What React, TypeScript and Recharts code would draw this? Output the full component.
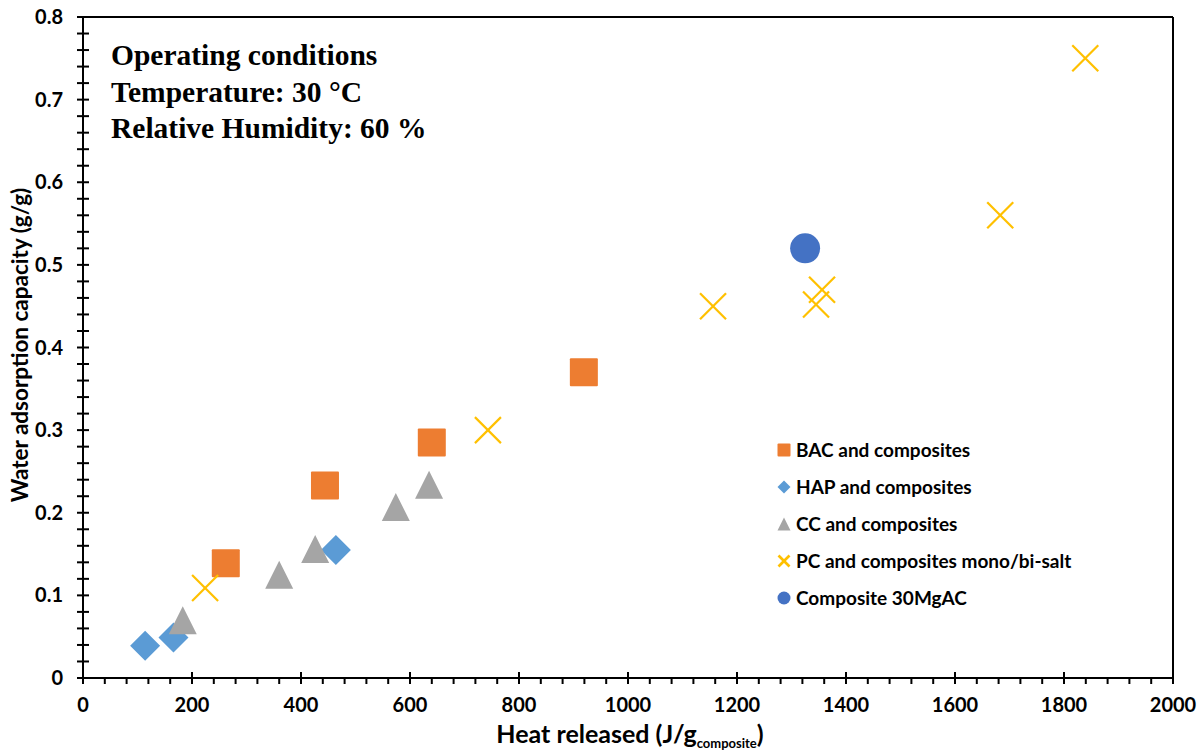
import React from "react";
import {
  ScatterChart,
  Scatter,
  XAxis,
  YAxis,
  Legend,
  ReferenceLine,
} from "recharts";

// ---- Data ----
const bacX = [262, 444, 640, 919];
const bacY = [0.139, 0.233, 0.285, 0.37];

const hapX = [114, 166, 464];
const hapY = [0.039, 0.049, 0.155];

const ccX = [183, 360, 426, 574, 635];
const ccY = [0.07, 0.125, 0.156, 0.207, 0.234];

const pcX = [224, 743, 1156, 1345, 1356, 1683, 1839];
const pcY = [0.109, 0.3, 0.45, 0.452, 0.47, 0.56, 0.75];

const mgX = [1325];
const mgY = [0.52];

const seriesNames = [
  "BAC and composites",
  "HAP and composites",
  "CC and composites",
  "PC and composites mono/bi-salt",
  "Composite 30MgAC",
];

const xMajorTicks = [0, 200, 400, 600, 800, 1000, 1200, 1400, 1600, 1800, 2000];
const yMajorTicks = [0, 0.1, 0.2, 0.3, 0.4, 0.5, 0.6, 0.7, 0.8];

const annotationLines = [
  "Operating conditions",
  "Temperature: 30 °C",
  "Relative Humidity: 60 %",
];

// minor ticks: 5 subdivisions per major interval
const xTicks: number[] = [];
for (let i = 0; i < xMajorTicks.length - 1; i++) {
  const a = xMajorTicks[i];
  const step = (xMajorTicks[i + 1] - a) / 5;
  for (let k = 0; k < 5; k++) xTicks.push(a + k * step);
}
xTicks.push(xMajorTicks[xMajorTicks.length - 1]);

const yTicks: number[] = [];
for (let i = 0; i < yMajorTicks.length - 1; i++) {
  const a = yMajorTicks[i];
  const step = (yMajorTicks[i + 1] - a) / 5;
  for (let k = 0; k < 5; k++) yTicks.push(Math.round((a + k * step) * 1000) / 1000);
}
yTicks.push(yMajorTicks[yMajorTicks.length - 1]);

const zip = (xs: number[], ys: number[]) => xs.map((x, i) => ({ x, y: ys[i] }));

const bacData = zip(bacX, bacY);
const hapData = zip(hapX, hapY);
const ccData = zip(ccX, ccY);
const pcData = zip(pcX, pcY);
const mgData = zip(mgX, mgY);

const COLORS = ["#ED7D31", "#5B9BD5", "#A5A5A5", "#FFC000", "#4472C4"];

const FONT = "Lato, 'Open Sans', sans-serif";

// ---- Marker shapes ----
const drawMarker = (kind: number, cx: number, cy: number, s: number) => {
  const h = s / 2;
  switch (kind) {
    case 0:
      return <rect x={cx - h} y={cy - h} width={s} height={s} fill={COLORS[0]} rx={1} />;
    case 1:
      return (
        <polygon
          points={`${cx},${cy - h} ${cx + h},${cy} ${cx},${cy + h} ${cx - h},${cy}`}
          fill={COLORS[1]}
        />
      );
    case 2:
      return (
        <polygon
          points={`${cx},${cy - h} ${cx + h},${cy + h} ${cx - h},${cy + h}`}
          fill={COLORS[2]}
        />
      );
    case 3:
      return (
        <g stroke={COLORS[3]} strokeWidth={s > 16 ? 2.2 : 2.6}>
          <line x1={cx - h} y1={cy - h} x2={cx + h} y2={cy + h} />
          <line x1={cx - h} y1={cy + h} x2={cx + h} y2={cy - h} />
        </g>
      );
    default:
      return <circle cx={cx} cy={cy} r={h} fill={COLORS[4]} />;
  }
};

const makeShape = (kind: number, size: number) => (props: any) => {
  const { cx, cy } = props;
  if (cx == null || cy == null) return <g />;
  return drawMarker(kind, cx, cy, size);
};

// ---- Axis ticks ----
const XTick = (props: any) => {
  const { x, y, payload } = props;
  const v = payload.value;
  const major = Math.round(v) % 200 === 0;
  return (
    <g>
      <line x1={x} x2={x} y1={major ? y - 6 : y} y2={y + 6} stroke="#000" strokeWidth={2} />
      {major && (
        <text
          x={x}
          y={y + 34}
          textAnchor="middle"
          fontFamily={FONT}
          fontWeight={700}
          fontSize={20}
          fill="#000"
        >
          {v}
        </text>
      )}
    </g>
  );
};

const YTick = (props: any) => {
  const { x, y, payload } = props;
  const v = payload.value;
  const major = Math.round(v * 100) % 10 === 0;
  return (
    <g>
      <line x1={x - 6} x2={x + 6} y1={y} y2={y} stroke="#000" strokeWidth={2} />
      {major && (
        <text
          x={x - 20}
          y={y}
          dy="0.35em"
          textAnchor="end"
          fontFamily={FONT}
          fontWeight={700}
          fontSize={20}
          fill="#000"
        >
          {v === 0 ? "0" : v.toFixed(1)}
        </text>
      )}
    </g>
  );
};

// ---- Legend ----
const renderLegend = () => (
  <div style={{ fontFamily: FONT, fontWeight: 700, fontSize: 19, color: "#000", whiteSpace: "nowrap" }}>
    {seriesNames.map((name, i) => (
      <div key={name} style={{ display: "flex", alignItems: "center", height: 37 }}>
        <svg width={14} height={14} style={{ marginRight: 5, flexShrink: 0 }}>
          {drawMarker(i, 7, 7, i === 3 ? 11 : 13)}
        </svg>
        <span>{name}</span>
      </div>
    ))}
  </div>
);

export default function App() {
  return (
    <div style={{ position: "absolute", left: 0, top: 0, width: 1203, height: 751, background: "#fff" }}>
      <ScatterChart
        width={1203}
        height={751}
        margin={{ top: 17, right: 30, bottom: 0, left: 0 }}
      >
        <XAxis
          type="number"
          dataKey="x"
          domain={[0, 2000]}
          ticks={xTicks}
          interval={0}
          tickSize={0}
          tickMargin={0}
          tickLine={false}
          tick={<XTick />}
          axisLine={{ stroke: "#000", strokeWidth: 2 }}
          height={73}
          allowDataOverflow
          label={{
            content: () => (
              <text
                x={630}
                y={743}
                textAnchor="middle"
                fontFamily={FONT}
                fontWeight={700}
                fontSize={25}
                fill="#000"
              >
                Heat released (J/g
                <tspan fontSize={13} dy={5}>composite</tspan>
                <tspan dy={-5}>)</tspan>
              </text>
            ),
          }}
        />
        <YAxis
          type="number"
          dataKey="y"
          domain={[0, 0.8]}
          ticks={yTicks}
          interval={0}
          tickSize={0}
          tickMargin={0}
          tickLine={false}
          tick={<YTick />}
          axisLine={{ stroke: "#000", strokeWidth: 2 }}
          width={83}
          allowDataOverflow
          label={{
            content: () => (
              <text
                x={20}
                y={345}
                transform="rotate(-90 20 345)"
                textAnchor="middle"
                dy="0.35em"
                fontFamily={FONT}
                fontWeight={700}
                fontSize={22.5}
                fill="#000"
              >
                Water adsorption capacity (g/g)
              </text>
            ),
          }}
        />
        <ReferenceLine y={0.8} stroke="#000" strokeWidth={2} />
        <ReferenceLine x={2000} stroke="#000" strokeWidth={2} />
        <Legend
          content={renderLegend}
          layout="vertical"
          verticalAlign="top"
          align="left"
          wrapperStyle={{
            position: "absolute",
            left: 777,
            top: 431,
            width: 0,
            height: 0,
            overflow: "visible",
          }}
        />
        <Scatter name={seriesNames[0]} data={bacData} shape={makeShape(0, 28)} isAnimationActive={false} />
        <Scatter name={seriesNames[1]} data={hapData} shape={makeShape(1, 30)} isAnimationActive={false} />
        <Scatter name={seriesNames[2]} data={ccData} shape={makeShape(2, 28)} isAnimationActive={false} />
        <Scatter name={seriesNames[3]} data={pcData} shape={makeShape(3, 26)} isAnimationActive={false} />
        <Scatter name={seriesNames[4]} data={mgData} shape={makeShape(4, 30)} isAnimationActive={false} />
      </ScatterChart>
      <div
        style={{
          position: "absolute",
          left: 111,
          top: 37,
          fontFamily: "'Liberation Serif', 'Times New Roman', serif",
          fontWeight: 700,
          fontSize: 29.5,
          lineHeight: "36.5px",
          color: "#000",
          pointerEvents: "none",
        }}
      >
        {annotationLines.map((l) => (
          <div key={l}>{l}</div>
        ))}
      </div>
    </div>
  );
}
